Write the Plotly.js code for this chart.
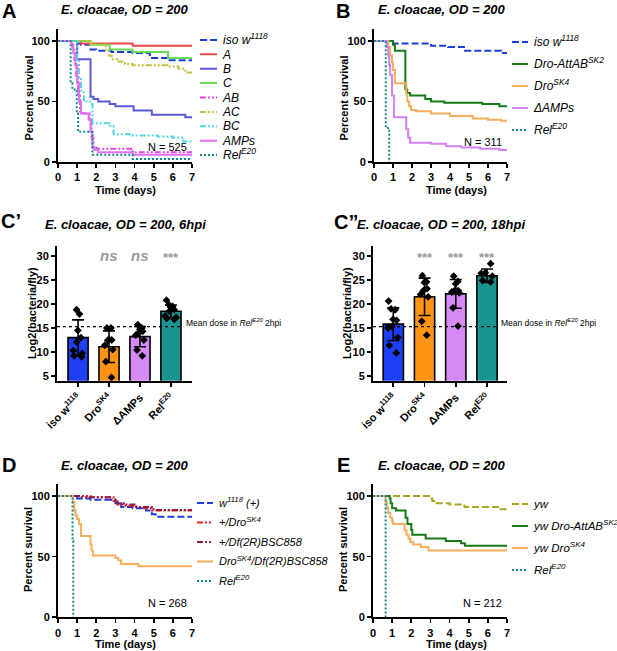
<!DOCTYPE html>
<html><head><meta charset="utf-8">
<script src="https://cdn.plot.ly/plotly-3.0.1.min.js"></script>
<style>html,body{margin:0;padding:0;background:#fff}#chart{width:617px;height:651px}</style>
</head><body><div id="chart"></div>
<script>
// ---------- Panel A : survival ----------
const aLabels = ['iso w<sup>1118</sup>','A','B','C','AB','AC','BC','AMPs','Rel<sup>E20</sup>'];
const aIsoT = [0,1.0,1.2,1.7,2.0,2.8,3.9,4.8,5.7,7];
const aIsoS = [100,98,97,93,92,91,90,86,84,84];
const aAT = [0,1.2,3.9,7];
const aAS = [100,98,96,96];
const aBT = [0,1.0,1.7,1.85,2.1,2.7,3.0,3.95,4.9,6.65,7];
const aBS = [100,85,54,52,50,48,46,42.5,39,37,37];
const aCT = [0,1.7,2.7,3.9,5.75,7];
const aCS = [100,97,93,91,86,86];
const aABT = [0,0.75,0.85,0.95,1.05,1.15,1.3,1.65,1.75,1.85,2.0,3.9,7];
const aABS = [100,95,85,70,55,42,40,35,20,12,11,8,8];
const aACT = [0,1.7,2.5,2.65,2.8,3.1,3.5,3.9,5.7,6.3,6.65,7];
const aACS = [100,97,93,88,85,83,81,80,79,77,74,74];
const aBCT = [0,1.0,1.1,1.2,1.35,1.7,1.8,2.7,2.9,3.9,5.2,6.0,6.55,7];
const aBCS = [100,85,70,59,50,48,32,30,23,22,21,20,17,16];
const aAMPT = [0,0.7,0.8,0.9,1.0,1.1,1.2,1.6,1.7,1.8,1.9,2.1,3.9,7];
const aAMPS = [100,97,90,80,65,50,40,35,25,12,10,8,6,6];
const aRelT = [0,0.66,0.75,0.98,1.05,1.7,1.8,3.9,7];
const aRelS = [100,65,60,40,25,25,6,2.5,2.5];
const aN = 'N = 525';

// ---------- Panel B : survival ----------
const bLabels = ['iso w<sup>1118</sup>','Dro-AttAB<sup>SK2</sup>','Dro<sup>SK4</sup>','ΔAMPs','Rel<sup>E20</sup>'];
const bIsoT = [0,1.0,3.0,3.9,4.8,6.7,7];
const bIsoS = [100,98,96,95,92,90,90];
const bAttT = [0,1.0,1.1,1.65,1.75,1.9,2.7,3.0,3.7,5.7,6.6,7];
const bAttS = [100,97,92,60,57,55,52,50,49,48,46,46];
const bSK4T = [0,0.75,0.85,0.95,1.0,1.1,1.7,1.75,1.85,1.95,2.2,3.0,4.0,5.2,6.0,6.7,7];
const bSK4S = [100,95,88,82,76,65,56,50,46,43,42,40,38,36,35,34,34];
const bAMPT = [0,0.68,0.75,0.8,0.85,0.95,1.05,1.65,1.7,1.8,1.9,3.0,3.8,4.6,5.6,6.6,7];
const bAMPS = [100,95,88,80,72,55,37,37,27,20,16,15,13,12,11,10,10];
const bRelT = [0,0.62,0.8];
const bRelS = [100,28,0];
const bN = 'N = 311';

// ---------- Panels C' / C'' : bacterial load ----------
const cCats = ['iso w<sup>1118</sup>','Dro<sup>SK4</sup>','ΔAMPs','Rel<sup>E20</sup>'];
const c6Mean = [13.0,11.1,13.2,18.5];
const c6SD = [3.7,3.3,2.1,1.3];
const c6Iso = [18.8,17.9,14.5,13.0,12.1,10.3,9.7,9.2,9.0];
const c6SK4 = [15.0,15.0,12.5,12.6,12.4,11.4,10.5,8.0,4.7];
const c6AMP = [15.7,15.0,14.7,14.3,14.0,13.5,12.5,10.4,9.2];
const c6Rel = [20.8,19.8,19.5,19.3,18.8,18.5,17.5,17.2,16.8,17.0];
const c6Sig = ['','ns','ns','***'];
const c18Mean = [15.8,21.5,22.1,25.9];
const c18SD = [3.4,3.9,3.0,1.4];
const c18Iso = [20.6,19.0,18.8,16.8,16.6,15.3,15.0,13.0,11.4,9.8];
const c18SK4 = [25.9,24.6,24.5,23.2,22.8,22.0,21.5,16.4,13.5];
const c18AMP = [25.8,24.7,24.2,22.8,22.8,22.5,22.3,19.2,15.4];
const c18Rel = [28.4,26.4,26.5,25.8,24.6,24.9];
const c18Sig = ['','***','***','***'];
const meanDoseRel2hpi = 15.3;
const meanDoseText = 'Mean dose in <i>Rel<sup>E20</sup></i> 2hpi';

// ---------- Panel D : survival ----------
const dLabels = ['w<sup>1118</sup> (+)','+/Dro<sup>SK4</sup>','+/Df(2R)BSC858','Dro<sup>SK4</sup>/Df(2R)BSC858','Rel<sup>E20</sup>'];
const dWT = [0,1.0,1.7,3.0,3.3,3.9,4.6,4.9,5.1,7];
const dWS = [100,98,97,94,91,90,88,85,83,83];
const dHSK4T = [0,1.7,2.9,3.1,3.4,4.0,4.5,4.9,7];
const dHSK4S = [100,99,96,93,92,91,90,88,88];
const dHDfT = [0,1.1,2.8,3.1,3.5,4.1,4.9,5.1,7];
const dHDfS = [100,99,97,94,93,91,89,88.5,88.5];
const dTransT = [0,0.78,0.85,0.92,1.0,1.1,1.2,1.7,1.75,1.82,3.0,3.15,3.3,4.2,7];
const dTransS = [100,95,88,84,81,77,67,60,55,51,49,47,44,42,42];
const dRelT = [0,0.76,0.8];
const dRelS = [100,63,0];
const dN = 'N = 268';

// ---------- Panel E : survival ----------
const eLabels = ['yw','yw Dro-AttAB<sup>SK2</sup>','yw Dro<sup>SK4</sup>','Rel<sup>E20</sup>'];
const eYwT = [0,3.0,3.1,3.2,4.0,4.6,4.8,6.6,7];
const eYwS = [100,98,96,94,93,92,91,89,89];
const eAttT = [0,0.87,0.92,1.0,1.2,1.7,1.8,2.0,2.05,2.75,3.8,4.6,4.8,7];
const eAttS = [100,98,94,90,88,82,77,72,68,65,63,61,59,59];
const eSK4T = [0,0.66,0.72,0.8,0.9,1.0,1.05,1.65,1.75,1.85,1.95,2.1,2.5,2.9,7];
const eSK4S = [100,95,90,86,82,79,77,72,68,65,62,60,58,55,55];
const eRelT = [0,0.66];
const eRelS = [100,0];
const eN = 'N = 212';

// ---------- styling ----------
const F = 'Arial, "Liberation Sans", Helvetica, sans-serif';
const W = 617, H = 651;
const px = x => x / W, py = y => 1 - y / H;
const DDD = '6px,2px,2px,2px,2px,2px';
const DASH = '7px,3px';
const DOT = '2px,2px';
const col = {
  iso:'#1a3cdc', A:'#f04848', B:'#5a5ad8', C:'#66dd55', AB:'#e448e4', AC:'#c8c040',
  BC:'#50d8e0', AMP:'#e070f0', rel:'#138a8a', att:'#167a16', sk4:'#f6ae5a', damp:'#d283f2',
  red:'#e8201c', maroon:'#8e1a4a', yw:'#a8a820'
};
const barCols = ['#1f3ff5','#ff9414','#d58af5','#1a9490'];

const traces = [];
function surv(t, s, color, dash, xa, ya) {
  traces.push({type:'scatter', mode:'lines', x:t, y:s, xaxis:xa, yaxis:ya,
    line:{shape:'hv', color:color, width:2, dash:dash}, showlegend:false, hoverinfo:'skip'});
}
function legItem(label, color, dash, xa, ya) {
  traces.push({type:'scatter', mode:'lines', x:[0,1], y:[label,label], xaxis:xa, yaxis:ya,
    line:{color:color, width:2, dash:dash}, showlegend:false, hoverinfo:'skip'});
}
// Panel A
const aSeries = [
  [aIsoT,aIsoS,col.iso,DASH],[aAT,aAS,col.A,'solid'],[aBT,aBS,col.B,'solid'],[aCT,aCS,col.C,'solid'],
  [aABT,aABS,col.AB,DDD],[aACT,aACS,col.AC,DDD],[aBCT,aBCS,col.BC,DDD],[aAMPT,aAMPS,col.AMP,'solid'],
  [aRelT,aRelS,col.rel,DOT]];
aSeries.forEach((s,i)=>{ surv(s[0],s[1],s[2],s[3],'x','y'); legItem(aLabels[i],s[2],s[3],'x7','y7'); });
// Panel B
const bSeries = [[bIsoT,bIsoS,col.iso,DASH],[bAttT,bAttS,col.att,'solid'],[bSK4T,bSK4S,col.sk4,'solid'],
  [bAMPT,bAMPS,col.damp,'solid'],[bRelT,bRelS,col.rel,DOT]];
bSeries.forEach((s,i)=>{ surv(s[0],s[1],s[2],s[3],'x2','y2'); legItem(bLabels[i],s[2],s[3],'x8','y8'); });
// Panel D
const dSeries = [[dWT,dWS,col.iso,DASH],[dHSK4T,dHSK4S,col.red,DDD],[dHDfT,dHDfS,col.maroon,DDD],
  [dTransT,dTransS,col.sk4,'solid'],[dRelT,dRelS,col.rel,DOT]];
dSeries.forEach((s,i)=>{ surv(s[0],s[1],s[2],s[3],'x5','y5'); legItem(dLabels[i],s[2],s[3],'x9','y9'); });
// Panel E
const eSeries = [[eYwT,eYwS,col.yw,DASH],[eAttT,eAttS,col.att,'solid'],[eSK4T,eSK4S,col.sk4,'solid'],
  [eRelT,eRelS,col.rel,DOT]];
eSeries.forEach((s,i)=>{ surv(s[0],s[1],s[2],s[3],'x6','y6'); legItem(eLabels[i],s[2],s[3],'x10','y10'); });

// Bars
function barPanel(means, sds, dots, xa, ya) {
  traces.push({type:'bar', x:cCats, y:means, xaxis:xa, yaxis:ya, width:0.65,
    marker:{color:barCols, line:{color:'#000', width:1.6}},
    error_y:{type:'data', array:sds, visible:true, color:'#000', thickness:1.6, width:6},
    showlegend:false, hoverinfo:'skip'});
  dots.forEach((d,i)=>{
    traces.push({type:'box', x:d.map(()=>cCats[i]), y:d, xaxis:xa, yaxis:ya, boxpoints:'all', jitter:0.8,
      pointpos:0, width:0.55, fillcolor:'rgba(0,0,0,0)', line:{width:0, color:'rgba(0,0,0,0)'},
      marker:{symbol:'diamond', size:6, color:'#000'}, showlegend:false, hoverinfo:'skip'});
  });
}
barPanel(c6Mean, c6SD, [c6Iso,c6SK4,c6AMP,c6Rel], 'x3', 'y3');
barPanel(c18Mean, c18SD, [c18Iso,c18SK4,c18AMP,c18Rel], 'x4', 'y4');

// ---------- axes ----------
const tickFont = {family:F, size:11, color:'#000', weight:'bold'};
const base = {showgrid:false, zeroline:false, showline:true, linewidth:2, linecolor:'#000',
  ticks:'outside', ticklen:4, tickwidth:1.6, tickcolor:'#000', tickfont:tickFont, fixedrange:true};
const survYDomTop = [py(162), py(28.9)];
const survYDomBot = [py(617.3), py(483.9)];
const barYDom = [py(380.8), py(246.4)];
function sx(dom, anchor){ return Object.assign({}, base, {domain:dom, anchor:anchor, range:[0,7], tickvals:[0,1,2,3,4,5,6,7]}); }
function sy(dom, anchor){ return Object.assign({}, base, {domain:dom, anchor:anchor, range:[0,110], tickvals:[0,50,100]}); }
function bx(dom, anchor, r){ return Object.assign({}, base, {domain:dom, anchor:anchor, type:'category', range:r, tickangle:-45,
  categoryorder:'array', categoryarray:cCats}); }
function by(dom, anchor){ return Object.assign({}, base, {domain:dom, anchor:anchor, range:[4,32], tickvals:[5,10,15,20,25,30]}); }
function lx(dom, anchor){ return {domain:dom, anchor:anchor, range:[0,1], visible:false, fixedrange:true}; }
function ly(dom, anchor, labels, size){ return {domain:dom, anchor:anchor, type:'category', categoryorder:'array', categoryarray:labels,
  range:[labels.length-0.5,-0.5], side:'right', showline:false, showgrid:false, zeroline:false, ticks:'', ticklabelstandoff:5,
  tickfont:{family:F, size:size, color:'#000', style:'italic'}, fixedrange:true}; }

const layout = {
  width:W, height:H, margin:{l:0,r:0,t:0,b:0}, paper_bgcolor:'#fff', plot_bgcolor:'rgba(0,0,0,0)',
  showlegend:false, font:{family:F, color:'#000'},
  xaxis: sx([px(58),px(192)],'y'),  yaxis: sy(survYDomTop,'x'),
  xaxis2: sx([px(374),px(507)],'y2'), yaxis2: sy(survYDomTop,'x2'),
  xaxis3: bx([px(57),px(192)],'y3',[-0.68,3.68]), yaxis3: by(barYDom,'x3'),
  xaxis4: bx([px(373),px(507)],'y4',[-0.65,3.64]), yaxis4: by(barYDom,'x4'),
  xaxis5: sx([px(58),px(192)],'y5'), yaxis5: sy(survYDomBot,'x5'),
  xaxis6: sx([px(373),px(507)],'y6'), yaxis6: sy(survYDomBot,'x6'),
  xaxis7: lx([px(200),px(217)],'y7'), yaxis7: ly([py(162.2),py(32.8)],'x7',aLabels,12),
  xaxis8: lx([px(512),px(528)],'y8'), yaxis8: ly([py(141),py(31)],'x8',bLabels,12),
  xaxis9: lx([px(197),px(213)],'y9'), yaxis9: ly([py(590.8),py(493.3)],'x9',dLabels,11),
  xaxis10: lx([px(512),px(528)],'y10'), yaxis10: ly([py(581),py(493)],'x10',eLabels,11.5),
  shapes:[
    {type:'line', xref:'x3 domain', yref:'y3', x0:0, x1:0.935, y0:meanDoseRel2hpi, y1:meanDoseRel2hpi, line:{color:'#000', width:1.2, dash:'dot'}},
    {type:'line', xref:'x4 domain', yref:'y4', x0:0, x1:0.93, y0:meanDoseRel2hpi, y1:meanDoseRel2hpi, line:{color:'#000', width:1.2, dash:'dot'}}
  ],
  annotations:[]
};
const ann = layout.annotations;
function txt(text, x, y, opt) {
  ann.push(Object.assign({text:text, x:px(x), y:py(y), xref:'paper', yref:'paper', showarrow:false,
    xanchor:'center', yanchor:'middle', font:{family:F, size:11, color:'#000'}}, opt||{}));
}
const titleFont = {family:F, size:13, color:'#000', weight:'bold', style:'italic'};
const letterFont = {family:F, size:20, color:'#000', weight:'bold'};
const axFont = {family:F, size:11, color:'#000', weight:'bold'};
const mainTitle = 'E. cloacae, OD = 200';
// letters
txt('A', 9, 11, {font:letterFont});
txt('B', 343, 11, {font:letterFont});
txt('C’', 11, 221, {font:letterFont});
txt('C”', 346, 222, {font:letterFont});
txt('D', 9, 465, {font:letterFont});
txt('E', 343, 465, {font:letterFont});
// titles
txt(mainTitle, 125, 10, {font:titleFont});
txt(mainTitle, 442, 10, {font:titleFont});
txt(mainTitle + ', 6hpi', 125, 225, {font:titleFont});
txt(mainTitle + ', 18hpi', 441, 225, {font:titleFont});
txt(mainTitle, 125, 465, {font:titleFont});
txt(mainTitle, 442, 465, {font:titleFont});
// axis titles
txt('Percent survival', 28, 98.5, {font:axFont, textangle:-90});
txt('Percent survival', 343, 98.5, {font:axFont, textangle:-90});
txt('Log2(bacteria/fly)', 32, 313, {font:axFont, textangle:-90});
txt('Log2(bacteria/fly)', 347, 313, {font:axFont, textangle:-90});
txt('Percent survival', 28, 550, {font:axFont, textangle:-90});
txt('Percent survival', 343, 550, {font:axFont, textangle:-90});
txt('Time (days)', 125, 190, {font:axFont});
txt('Time (days)', 457, 190, {font:axFont});
txt('Time (days)', 125, 644, {font:axFont});
txt('Time (days)', 457, 644, {font:axFont});
// N labels
const nFont = {family:F, size:11, color:'#000'};
txt(aN, 189, 147, {xanchor:'right', font:nFont});
txt(bN, 504, 142, {xanchor:'right', font:nFont});
txt(dN, 189, 603, {xanchor:'right', font:nFont});
txt(eN, 504, 603, {xanchor:'right', font:nFont});
// mean dose label
const mdFont = {family:F, size:8.5, color:'#000'};
txt(meanDoseText, 184, 322, {xanchor:'left', font:mdFont});
txt(meanDoseText, 499, 322, {xanchor:'left', font:mdFont});
// significance
function sig(labels, xa, ya) {
  labels.forEach((s,i)=>{ if(!s) return;
    const isNs = s === 'ns';
    ann.push({text:s, x:cCats[i], y: isNs ? 30 : 29.6, xref:xa, yref:ya, showarrow:false, xanchor:'center', yanchor:'middle',
      font:{family:F, size: isNs ? 15 : 13, color:'#9a9a9a', weight:'bold', style: isNs ? 'italic' : 'normal'}});
  });
}
sig(c6Sig, 'x3', 'y3');
sig(c18Sig, 'x4', 'y4');

Plotly.newPlot('chart', traces, layout, {staticPlot:true, displayModeBar:false});
</script></body></html>
